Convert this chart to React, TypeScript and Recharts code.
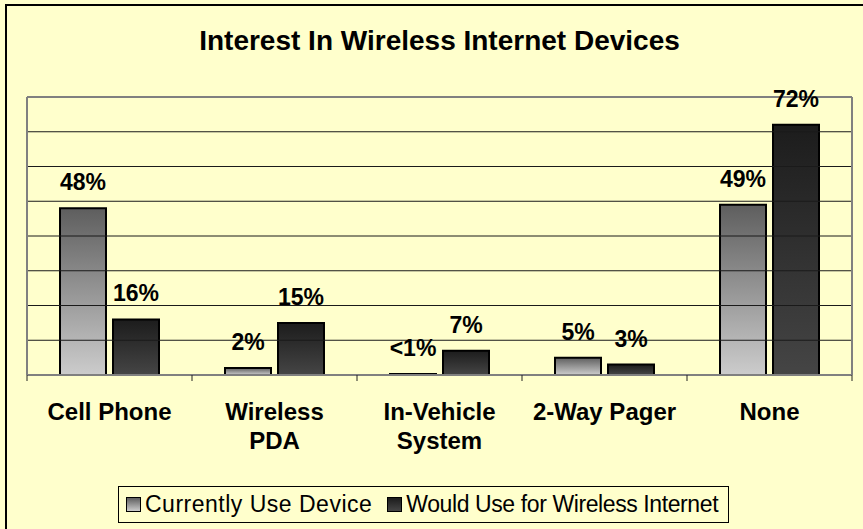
import { BarChart, Bar, XAxis, YAxis, LabelList, ReferenceLine } from "recharts";

const categories = ["Cell Phone", "Wireless\nPDA", "In-Vehicle\nSystem", "2-Way Pager", "None"];
const currentUse = [48, 2, 0.3, 5, 49];
const wouldUse = [16, 15, 7, 3, 72];
const yTicks = [0, 10, 20, 30, 40, 50, 60, 70, 80];

const seriesNames = ["Currently Use Device", "Would Use for Wireless Internet"];

const data = categories.map((name, i) => ({ name, current: currentUse[i], would: wouldUse[i] }));

const FONT = "'Liberation Sans', Arial, sans-serif";
const BG = "#FFFFCC";

const pct = (v: any) => (Number(v) < 1 ? "<1%" : `${v}%`);

function CategoryTick(props: any) {
  const { x, y, payload, index } = props;
  const half = payload?.offset || 82.5;
  const lines = String(payload.value).split("\n");
  return (
    <g>
      <line x1={x - half} x2={x - half} y1={y} y2={y + 6} stroke="#222" />
      {index === categories.length - 1 && <line x1={x + half} x2={x + half} y1={y} y2={y + 6} stroke="#222" />}
      <text x={x} y={y + 45} textAnchor="middle" fontFamily={FONT} fontWeight="bold" fontSize={24} fill="#000">
        {lines.map((l, i) => (
          <tspan key={i} x={x} dy={i === 0 ? 0 : 29}>
            {l}
          </tspan>
        ))}
      </text>
    </g>
  );
}

function Swatch({ gradient }: { gradient: string }) {
  return (
    <span
      style={{
        display: "inline-block",
        width: 13,
        height: 13,
        border: "1.5px solid #000",
        background: gradient,
        marginRight: 4,
      }}
    />
  );
}

export default function App() {
  const top = yTicks[yTicks.length - 1];
  return (
    <div style={{ position: "absolute", left: 0, top: 0, width: 863, height: 529, overflow: "hidden", background: BG, fontFamily: FONT }}>
      <div style={{ position: "absolute", left: 5, top: 4, width: 900, height: 600, borderLeft: "2px solid #000", borderTop: "2px solid #000" }} />
      <div
        style={{
          position: "absolute",
          left: 0,
          top: 27,
          width: 879,
          textAlign: "center",
          fontSize: 28,
          lineHeight: "28px",
          fontWeight: "bold",
          color: "#000",
        }}
      >
        Interest In Wireless Internet Devices
      </div>
      <div style={{ position: "absolute", left: 0, top: 0 }}>
        <BarChart width={863} height={529} data={data} margin={{ top: 97, right: 10, left: 26, bottom: 0 }} barCategoryGap="20%" barGap={7}>
          <defs>
            <linearGradient id="gCurrent" x1="0" y1="0" x2="0" y2="1">
              <stop offset="0%" stopColor="#5e5e5e" />
              <stop offset="100%" stopColor="#cccccc" />
            </linearGradient>
            <linearGradient id="gWould" x1="0" y1="0" x2="0" y2="1">
              <stop offset="0%" stopColor="#1c1c1c" />
              <stop offset="100%" stopColor="#454545" />
            </linearGradient>
          </defs>
          <YAxis yAxisId="l" domain={[0, top]} ticks={yTicks} width={1} tick={false} tickLine={false} axisLine={{ stroke: "#808080", strokeWidth: 2 }} />
          <YAxis yAxisId="r" orientation="right" domain={[0, top]} ticks={yTicks} width={1} tick={false} tickLine={false} axisLine={{ stroke: "#808080", strokeWidth: 2 }} />
          {yTicks.slice(1, -1).map((t) => (
            <ReferenceLine key={t} yAxisId="l" y={t} stroke="#1a1a1a" strokeWidth={1} />
          ))}
          <ReferenceLine yAxisId="l" y={top} stroke="#808080" strokeWidth={2} />
          <XAxis
            dataKey="name"
            height={154}
            interval={0}
            tickLine={false}
            tickSize={0}
            tickMargin={0}
            axisLine={{ stroke: "#808080", strokeWidth: 2 }}
            tick={<CategoryTick />}
          />
          <Bar yAxisId="l" dataKey="current" name={seriesNames[0]} fill="url(#gCurrent)" stroke="#000" strokeWidth={2} isAnimationActive={false}>
            <LabelList dataKey="current" position="top" offset={18} formatter={pct} fill="#000" fontFamily={FONT} fontWeight="bold" fontSize={23} />
          </Bar>
          <Bar yAxisId="l" dataKey="would" name={seriesNames[1]} fill="url(#gWould)" stroke="#000" strokeWidth={2} isAnimationActive={false}>
            <LabelList dataKey="would" position="top" offset={18} formatter={pct} fill="#000" fontFamily={FONT} fontWeight="bold" fontSize={23} />
          </Bar>
        </BarChart>
      </div>
      <div
        style={{
          position: "absolute",
          left: 118,
          top: 486,
          width: 602,
          height: 35,
          border: "1px solid #000",
          display: "flex",
          alignItems: "center",
          paddingLeft: 7,
          boxSizing: "content-box",
          fontSize: 23,
          color: "#000",
          whiteSpace: "nowrap",
        }}
      >
        <Swatch gradient="linear-gradient(#5e5e5e, #cccccc)" />
        <span style={{ marginRight: 15, letterSpacing: 0.5 }}>{seriesNames[0]}</span>
        <Swatch gradient="linear-gradient(#1c1c1c, #454545)" />
        <span style={{ letterSpacing: -0.4 }}>{seriesNames[1]}</span>
      </div>
    </div>
  );
}
